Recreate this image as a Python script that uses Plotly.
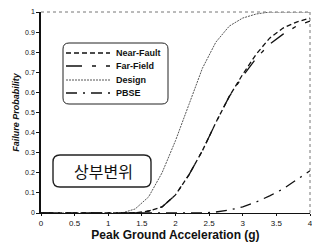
import plotly.graph_objects as go

# Data
design_x = [0.0, 1.2, 1.4, 1.6, 1.8, 2.0, 2.2, 2.4, 2.6, 2.8, 3.0, 3.2, 3.4, 3.6, 4.0]
design_y = [0.0, 0.0, 0.02, 0.08, 0.20, 0.36, 0.54, 0.72, 0.85, 0.93, 0.97, 0.99, 1.0, 1.0, 1.0]

near_x = [0.0, 1.4, 1.6, 1.8, 2.0, 2.2, 2.4, 2.6, 2.8, 3.0, 3.2, 3.4, 3.6, 3.8, 4.0]
near_y = [0.0, 0.0, 0.01, 0.03, 0.09, 0.19, 0.31, 0.45, 0.58, 0.69, 0.79, 0.87, 0.92, 0.95, 0.97]

far_x = [0.0, 1.4, 1.6, 1.8, 2.0, 2.2, 2.4, 2.6, 2.8, 3.0, 3.2, 3.4, 3.6, 3.8, 4.0]
far_y = [0.0, 0.0, 0.01, 0.03, 0.09, 0.19, 0.31, 0.45, 0.58, 0.68, 0.77, 0.84, 0.89, 0.93, 0.955]

pbse_x = [0.0, 2.4, 2.6, 2.8, 3.0, 3.2, 3.4, 3.6, 3.8, 4.0]
pbse_y = [0.0, 0.0, 0.005, 0.015, 0.03, 0.055, 0.085, 0.12, 0.165, 0.21]

series_names = ["Near-Fault", "Far-Field", "Design", "PBSE"]
x_ticks = [0, 0.5, 1, 1.5, 2, 2.5, 3, 3.5, 4]
x_tick_labels = ["0", "0.5", "1", "1.5", "2", "2.5", "3", "3.5", "4"]
y_ticks = [0, 0.1, 0.2, 0.3, 0.4, 0.5, 0.6, 0.7, 0.8, 0.9, 1]
y_tick_labels = ["0", "0.1", "0.2", "0.3", "0.4", "0.5", "0.6", "0.7", "0.8", "0.9", "1"]

FONT = "Liberation Sans, Arial, sans-serif"
L, R, T, B, W, H = 41, 2, 12, 37, 312, 250
PW, PH = W - L - R, H - T - B

def px(x):
    return (x - L) / PW

def py(y):
    return (T + PH - y) / PH

styles = [
    dict(color="#111", width=1.3, dash="5px,3px"),
    dict(color="#111", width=1.3, dash="16px,10px,4px,10px"),
    dict(color="#555", width=1, dash="2px,1px"),
    dict(color="#111", width=1.3, dash="11px,6px,2px,6px"),
]
data = [(near_x, near_y), (far_x, far_y), (design_x, design_y), (pbse_x, pbse_y)]

fig = go.Figure()
for name, (xs, ys), st in zip(series_names, data, styles):
    fig.add_trace(go.Scatter(x=xs, y=ys, mode="lines", name=name, line=st,
                             showlegend=False, cliponaxis=False))

def rounded(x0, y0, x1, y1, rx, ry):
    return (f"M {x0+rx},{y0} L {x1-rx},{y0} Q {x1},{y0} {x1},{y0+ry} "
            f"L {x1},{y1-ry} Q {x1},{y1} {x1-rx},{y1} L {x0+rx},{y1} "
            f"Q {x0},{y1} {x0},{y1-ry} L {x0},{y0+ry} Q {x0},{y0} {x0+rx},{y0} Z")

# legend frame (manual legend)
fig.add_shape(type="path", xref="paper", yref="paper",
              path=rounded(px(63), py(104), px(168), py(43), 6 / PW, 6 / PH),
              line=dict(color="#222", width=1), fillcolor="rgba(255,255,255,0)")
row_y = [53, 66, 80, 93]
for name, st, ry in zip(series_names, styles, row_y):
    fig.add_shape(type="line", xref="paper", yref="paper",
                  x0=px(66), x1=px(110), y0=py(ry), y1=py(ry), line=st)
    fig.add_annotation(x=px(114), y=py(ry), xref="paper", yref="paper",
                       text=f"<b>{name}</b>", showarrow=False,
                       xanchor="left", yanchor="middle",
                       font=dict(family=FONT, size=9, color="#111"))

# label frame
fig.add_shape(type="path", xref="paper", yref="paper",
              path=rounded(px(53), py(187), px(151), py(155), 7 / PW, 7 / PH),
              line=dict(color="#222", width=1.4), fillcolor="white")
fig.add_annotation(x=px(103), y=py(171), xref="paper", yref="paper", text="상부변위",
                   showarrow=False, xanchor="center", yanchor="middle",
                   font=dict(family="Noto Sans CJK KR", size=16, color="#111"))
# dotted frame top and right
fig.add_shape(type="line", xref="paper", yref="paper", x0=0, y0=1, x1=1, y1=1,
              line=dict(color="#777", width=1, dash="dot"))
fig.add_shape(type="line", xref="paper", yref="paper", x0=1, y0=0, x1=1, y1=1,
              line=dict(color="#777", width=1, dash="dot"))

fig.update_layout(
    width=W, height=H,
    margin=dict(l=L, r=R, t=T, b=B, autoexpand=False),
    paper_bgcolor="white", plot_bgcolor="white",
    font=dict(family=FONT, color="#111", size=8),
    showlegend=False,
)
fig.update_xaxes(range=[0, 4], tickvals=x_ticks, ticktext=x_tick_labels,
                 showgrid=False, zeroline=False, showline=True, linecolor="#111", linewidth=1.2,
                 ticks="outside", ticklen=2, tickcolor="#111", automargin=False,
                 ticklabeloverflow="allow",
                 tickfont=dict(family=FONT, size=8, color="#111"),
                 title=dict(text="<b>Peak Ground Acceleration (g)</b>",
                            font=dict(family=FONT, size=12, color="#111"), standoff=2))
fig.update_yaxes(range=[0, 1], tickvals=y_ticks, ticktext=y_tick_labels,
                 showgrid=False, zeroline=False, showline=True, linecolor="#111", linewidth=1.6,
                 ticks="outside", ticklen=3, tickcolor="#111", automargin=False,
                 ticklabeloverflow="allow",
                 tickfont=dict(family=FONT, size=7, color="#111"),
                 title=dict(text="<b><i>Failure Probability</i></b>",
                            font=dict(family=FONT, size=9, color="#111"), standoff=4))

fig.write_html("out.html", config={"displayModeBar": False},
               post_script="document.body.style.margin='0';")
